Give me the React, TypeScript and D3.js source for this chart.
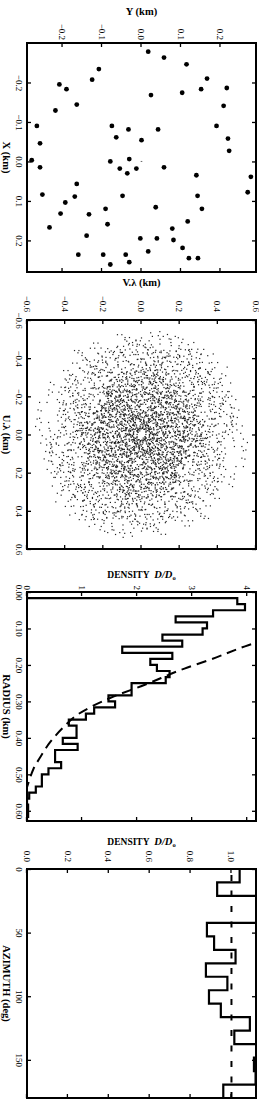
import React, { useRef, useEffect } from "react";
import * as d3 from "d3";

// antenna positions (km)
const antennaX = [
  -0.278, -0.263, -0.246, -0.234, -0.207, -0.21, -0.195, -0.183, -0.168, -0.174,
  -0.183, -0.186, -0.144, -0.129, -0.141, -0.09, -0.09, -0.081, -0.081, -0.09,
  -0.061, -0.054, -0.058, -0.046, -0.027, -0.003, 0.0, -0.006, 0.015, 0.018,
  0.018, 0.03, 0.015, 0.035, 0.039, 0.057, 0.078, 0.084, 0.087, 0.087,
  0.089, 0.104, 0.12, 0.116, 0.12, 0.132, 0.134, 0.152, 0.159, 0.167,
  0.17, 0.188, 0.195, 0.195, 0.199, 0.228, 0.219, 0.236, 0.236, 0.236,
  0.245, 0.245, 0.255, 0.261,
];
const antennaY = [
  0.017, 0.057, 0.114, -0.108, -0.125, 0.166, -0.208, -0.19, 0.024, 0.103,
  0.151, 0.216, -0.164, -0.218, 0.208, -0.265, -0.075, -0.033, 0.042, 0.19,
  -0.064, 0.0, 0.219, -0.257, 0.222, -0.278, -0.079, -0.031, -0.257, -0.055,
  -0.013, -0.036, 0.057, 0.139, 0.277, -0.164, 0.269, -0.251, -0.048, 0.142,
  -0.169, -0.193, -0.091, 0.036, 0.153, -0.205, -0.133, 0.117, -0.086, -0.233,
  0.078, -0.139, -0.003, 0.039, 0.081, 0.017, 0.104, -0.16, -0.097, -0.04,
  0.12, 0.143, -0.031, -0.079,
];

// radial density histogram, bins of 1/60 km
const radialBin = 1 / 60;
const radialDensity = [
  0, 3.82, 3.96, 3.38, 2.7, 3.27, 3.19, 2.46, 2.82, 1.73,
  2.64, 2.24, 2.36, 2.59, 2.52, 1.9, 1.9, 1.48, 1.6, 1.22,
  1.07, 0.76, 0.9, 0.9, 0.65, 0.92, 0.51, 0.51, 0.62, 0.39,
  0.27, 0.27, 0.16, 0.04, 0, 0.02, 0.02, 0,
];
// dashed model curve (radius km, density)
const fitRadius = [0.13, 0.146, 0.187, 0.21, 0.255, 0.287, 0.316, 0.335, 0.371, 0.412, 0.453, 0.486, 0.517, 0.535];
const fitDensity = [4.35, 4.02, 3.3, 2.86, 2.13, 1.57, 1.15, 0.93, 0.66, 0.42, 0.24, 0.115, 0.04, 0.0];

// azimuthal density histogram, 17 bins over 0-180 deg
const azimuthDensity = [1.04, 0.93, 1.2, 1.2, 0.88, 0.915, 1.02, 0.875, 0.98, 0.89, 0.948, 1.09, 1.014, 1.2, 1.11, 1.118, 0.96];
const azimuthLevel = 1.0;

const FONT = "'Liberation Serif', 'DejaVu Serif', serif";
const LEFT = 27;
const SIZE = 229;

function makePanel(svg, top, cfg) {
  // drawn upright, then turned a quarter turn clockwise
  const g = svg.append("g").attr("transform", `translate(${LEFT + SIZE},${top}) rotate(90)`);
  const x = d3.scaleLinear().domain(cfg.xDomain).range([0, SIZE]);
  const y = d3.scaleLinear().domain(cfg.yDomain).range([SIZE, 0]);

  const axis = (a, tr, labels) => {
    const ga = g.append("g").attr("transform", tr).call(a);
    ga.select(".domain").remove();
    ga.attr("font-family", FONT).attr("font-size", 9);
    ga.selectAll("line").attr("stroke-width", 1.3);
    if (!labels) ga.selectAll("text").remove();
  };
  axis(d3.axisBottom(x).tickValues(cfg.xTicks).tickFormat(cfg.xFormat).tickSizeInner(-4).tickSizeOuter(0).tickPadding(5), `translate(0,${SIZE})`, true);
  axis(d3.axisTop(x).tickValues(cfg.xTicks).tickSizeInner(-4).tickSizeOuter(0), "translate(0,0)", false);
  axis(d3.axisLeft(y).tickValues(cfg.yTicks).tickFormat(cfg.yFormat).tickSizeInner(-4).tickSizeOuter(0).tickPadding(cfg.yPad), "translate(0,0)", true);
  axis(d3.axisRight(y).tickValues(cfg.yTicks).tickSizeInner(-4).tickSizeOuter(0), `translate(${SIZE},0)`, false);

  g.append("rect")
    .attr("width", SIZE)
    .attr("height", SIZE)
    .attr("fill", "none")
    .attr("stroke", "#000")
    .attr("stroke-width", 2);

  g.append("text")
    .attr("x", SIZE / 2)
    .attr("y", SIZE + 24)
    .attr("text-anchor", "middle")
    .attr("font-family", FONT)
    .attr("font-weight", "bold")
    .attr("font-size", 10.5)
    .text(cfg.xTitle);

  const yt = g.append("text")
    .attr("transform", `translate(${-cfg.yTitleOff},${SIZE / 2}) rotate(-90)`)
    .attr("text-anchor", "middle")
    .attr("font-family", FONT)
    .attr("font-weight", "bold")
    .attr("font-size", 10.5);
  if (cfg.density) {
    yt.append("tspan").attr("font-size", 9.5).text("DENSITY\u2002");
    yt.append("tspan").attr("font-style", "italic").text("D/D");
    yt.append("tspan").attr("font-size", 6.5).attr("dy", 2).text("o");
  } else {
    yt.text(cfg.yTitle);
  }

  const clipId = `clip${top}`;
  g.append("clipPath").attr("id", clipId).append("rect").attr("width", SIZE).attr("height", SIZE);
  const plot = g.append("g").attr("clip-path", `url(#${clipId})`);
  return { g: plot, x, y };
}

const App = () => {
  const svgRef = useRef(null);

  useEffect(() => {
    const svg = d3.select(svgRef.current);
    svg.selectAll("*").remove();
    const f1 = d3.format(".1f");

    /**************************************
     **        Antenna positions         **
     **************************************/
    const p1 = makePanel(svg, 43, {
      xDomain: [-0.3, 0.28],
      yDomain: [-0.29, 0.29],
      xTicks: [-0.2, -0.1, 0, 0.1, 0.2],
      yTicks: [-0.2, -0.1, 0, 0.1, 0.2],
      xFormat: f1,
      yFormat: f1,
      yPad: 3,
      xTitle: "X (km)",
      yTitle: "Y (km)",
      yTitleOff: 28,
    });
    p1.g
      .selectAll("circle")
      .data(antennaX)
      .enter()
      .append("circle")
      .attr("cx", (d) => p1.x(d))
      .attr("cy", (d, i) => p1.y(antennaY[i]))
      .attr("r", 2.4)
      .attr("fill", "#000");
    p1.g
      .append("line")
      .attr("x1", p1.x(0))
      .attr("x2", p1.x(0))
      .attr("y1", p1.y(0) - 0.8)
      .attr("y2", p1.y(0) + 0.8)
      .attr("stroke", "#000")
      .attr("stroke-width", 0.6);

    /**************************************
     **          UV coverage             **
     **************************************/
    const baselines = [];
    antennaX.forEach((xi, i) =>
      antennaX.forEach((xj, j) => {
        if (i !== j) baselines.push([xi - xj, antennaY[i] - antennaY[j]]);
      })
    );
    const p2 = makePanel(svg, 320, {
      xDomain: [-0.6, 0.6],
      yDomain: [-0.6, 0.6],
      xTicks: [-0.6, -0.4, -0.2, 0, 0.2, 0.4, 0.6],
      yTicks: [-0.6, -0.4, -0.2, 0, 0.2, 0.4, 0.6],
      xFormat: f1,
      yFormat: f1,
      yPad: 8,
      xTitle: "U.\u03bb (km)",
      yTitle: "V.\u03bb (km)",
      yTitleOff: 34,
    });
    p2.g
      .selectAll("rect")
      .data(baselines)
      .enter()
      .append("rect")
      .attr("x", (d) => p2.x(d[0]) - 0.6)
      .attr("y", (d) => p2.y(d[1]) - 0.6)
      .attr("width", 1.2)
      .attr("height", 1.2)
      .attr("fill", "#222");

    /**************************************
     **        Radial density            **
     **************************************/
    const p3 = makePanel(svg, 592, {
      xDomain: [0, 0.628],
      yDomain: [0, 4.16],
      xTicks: [0, 0.1, 0.2, 0.3, 0.4, 0.5, 0.6],
      yTicks: [0, 1, 2, 3, 4],
      xFormat: d3.format(".2f"),
      yFormat: d3.format("d"),
      yPad: 2,
      xTitle: "RADIUS (km)",
      yTitleOff: 14,
      density: true,
    });
    const radSteps = radialDensity.map((v, i) => [i * radialBin, v]);
    radSteps.push([radialDensity.length * radialBin, 0]);
    p3.g
      .append("path")
      .attr("d", d3.line().x((d) => p3.x(d[0])).y((d) => p3.y(d[1])).curve(d3.curveStepAfter)(radSteps))
      .attr("fill", "none")
      .attr("stroke", "#000")
      .attr("stroke-width", 2.2);
    p3.g
      .append("path")
      .attr(
        "d",
        d3.line().x((d) => p3.x(d)).y((d, i) => p3.y(fitDensity[i])).curve(d3.curveMonotoneX)(fitRadius)
      )
      .attr("fill", "none")
      .attr("stroke", "#000")
      .attr("stroke-width", 2)
      .attr("stroke-dasharray", "10,6");

    /**************************************
     **        Azimuthal density         **
     **************************************/
    const p4 = makePanel(svg, 869, {
      xDomain: [0, 180],
      yDomain: [0, 1.12],
      xTicks: [0, 50, 100, 150],
      yTicks: [0, 0.2, 0.4, 0.6, 0.8, 1.0],
      xFormat: d3.format("d"),
      yFormat: f1,
      yPad: 7,
      xTitle: "AZIMUTH (deg)",
      yTitleOff: 24,
      density: true,
    });
    const azBin = 180 / azimuthDensity.length;
    const azSteps = azimuthDensity.map((v, i) => [i * azBin, v]);
    azSteps.push([180, azimuthDensity[azimuthDensity.length - 1]]);
    p4.g
      .append("path")
      .attr("d", d3.line().x((d) => p4.x(d[0])).y((d) => p4.y(d[1])).curve(d3.curveStepAfter)(azSteps))
      .attr("fill", "none")
      .attr("stroke", "#000")
      .attr("stroke-width", 2.2);
    p4.g
      .append("line")
      .attr("x1", p4.x(0))
      .attr("x2", p4.x(180))
      .attr("y1", p4.y(azimuthLevel))
      .attr("y2", p4.y(azimuthLevel))
      .attr("stroke", "#000")
      .attr("stroke-width", 2)
      .attr("stroke-dasharray", "6,9.5")
      .attr("stroke-dashoffset", -6);
  }, []);

  return (
    <svg
      ref={svgRef}
      width={259}
      height={1104}
      style={{ position: "absolute", left: 0, top: 0, background: "#fff" }}
    ></svg>
  );
};

export default App;
